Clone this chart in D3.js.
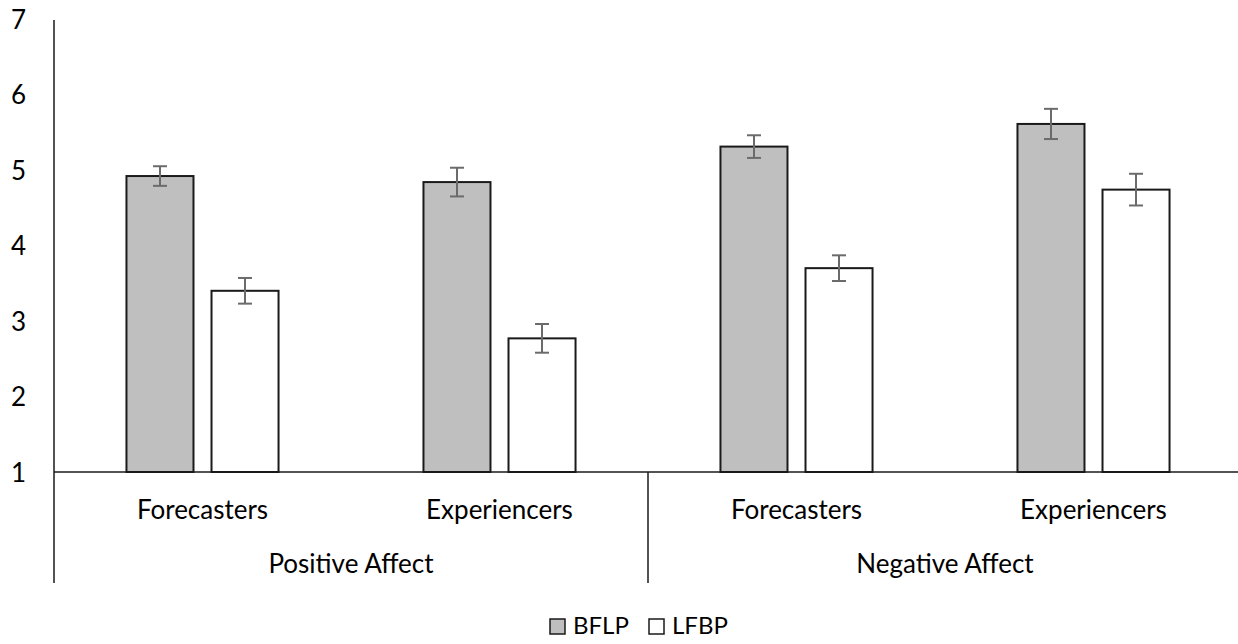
<!DOCTYPE html>
<html><head><meta charset="utf-8">
<script src="https://cdn.jsdelivr.net/npm/d3@7"></script>
<style>body{margin:0;background:#fff}svg{display:block}text{font-family:Lato,"Open Sans",sans-serif;fill:#000}</style>
</head><body><svg id="c" width="1238" height="644"></svg>
<script>
const groups = ["Positive Affect", "Negative Affect"];
const categories = ["Forecasters", "Experiencers", "Forecasters", "Experiencers"];
const categoryGroup = [0, 0, 1, 1];
const series = ["BFLP", "LFBP"];
const bflp = [4.92, 4.84, 5.31, 5.61];
const lfbp = [3.40, 2.77, 3.70, 4.74];
const bflpErr = [0.13, 0.19, 0.15, 0.20];
const lfbpErr = [0.17, 0.19, 0.17, 0.21];
const yTicks = [1, 2, 3, 4, 5, 6, 7];

const svg = d3.select("#c");
const x0 = d3.scaleBand().domain(d3.range(categories.length)).range([54, 1242]).paddingInner(0.488).paddingOuter(0.244);
const x1 = d3.scaleBand().domain(series).range([0, x0.bandwidth()]).paddingInner(0.212);
const y = d3.scaleLinear().domain([1, 7]).range([472, 19]);
const fills = {BFLP: "#bfbfbf", LFBP: "#ffffff"};
const FS = "26px";

const data = [];
categories.forEach((c, i) => {
  data.push({i, s: "BFLP", v: bflp[i], e: bflpErr[i]});
  data.push({i, s: "LFBP", v: lfbp[i], e: lfbpErr[i]});
});

// y axis
const ya = svg.append("g").attr("transform", "translate(54,0)")
  .call(d3.axisLeft(y).tickValues(yTicks).tickSize(0).tickPadding(28).tickFormat(d3.format("d")));
ya.select(".domain").remove();
ya.selectAll("text").style("font-size", FS).attr("font-family", null).attr("dy", "0.36em");

// bars
svg.append("g").selectAll("rect").data(data).join("rect")
  .attr("x", d => x0(d.i) + x1(d.s))
  .attr("width", x1.bandwidth())
  .attr("y", d => y(d.v))
  .attr("height", d => y(1) - y(d.v))
  .attr("fill", d => fills[d.s])
  .attr("stroke", "#1a1a1a").attr("stroke-width", 2);

// error bars
const eb = svg.append("g").attr("stroke", "#6b6b6b").attr("stroke-width", 2);
data.forEach(d => {
  const cx = x0(d.i) + x1(d.s) + x1.bandwidth() / 2;
  eb.append("line").attr("x1", cx).attr("x2", cx).attr("y1", y(d.v + d.e)).attr("y2", y(d.v - d.e));
  eb.append("line").attr("x1", cx - 7).attr("x2", cx + 7).attr("y1", y(d.v + d.e)).attr("y2", y(d.v + d.e));
  eb.append("line").attr("x1", cx - 7).attr("x2", cx + 7).attr("y1", y(d.v - d.e)).attr("y2", y(d.v - d.e));
});

// axes lines
const ax = svg.append("g").attr("stroke", "#1a1a1a").attr("stroke-width", 1.5);
ax.append("line").attr("x1", 54).attr("x2", 54).attr("y1", 20).attr("y2", 583);
ax.append("line").attr("x1", 54).attr("x2", 1238).attr("y1", y(1)).attr("y2", y(1));
const divX = x0(2) - x0.step() * x0.paddingInner() / 2;
ax.append("line").attr("x1", divX).attr("x2", divX).attr("y1", y(1)).attr("y2", 583);

// category labels
svg.append("g").selectAll("text").data(categories).join("text")
  .attr("x", (d, i) => x0(i) + x0.bandwidth() / 2)
  .attr("y", 519).attr("text-anchor", "middle").style("font-size", FS).text(d => d);
// group labels
svg.append("g").selectAll("text").data(groups).join("text")
  .attr("x", (d, g) => {
    const idx = categoryGroup.map((v, i) => v === g ? i : -1).filter(i => i >= 0);
    return (x0(idx[0]) + x0(idx[idx.length - 1]) + x0.bandwidth()) / 2;
  })
  .attr("y", 573).attr("text-anchor", "middle").style("font-size", FS).text(d => d);

// legend
const lg = svg.append("g");
const legX = [550, 649];
series.forEach((s, k) => {
  lg.append("rect").attr("x", legX[k]).attr("y", 619).attr("width", 15).attr("height", 15)
    .attr("fill", fills[s]).attr("stroke", "#1a1a1a").attr("stroke-width", 1.5);
  lg.append("text").attr("x", legX[k] + 23).attr("y", 634).style("font-size", "24px").text(s);
});
</script></body></html>
